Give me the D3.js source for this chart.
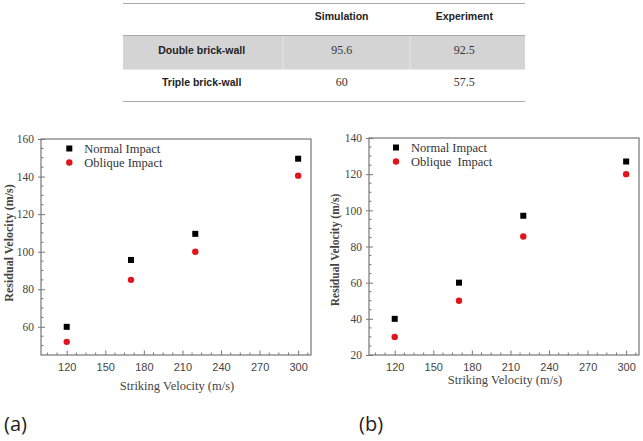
<!DOCTYPE html>
<html><head><meta charset="utf-8">
<script src="https://cdn.jsdelivr.net/npm/d3@7"></script>
<style>body{margin:0;background:#fff;}svg{display:block;}</style>
</head><body>
<svg id="chart" width="643" height="441"></svg>
<script>
// ---- data ----
const tableCols = ["Simulation", "Experiment"];
const tableRows = ["Double brick-wall", "Triple brick-wall"];
const simulation = ["95.6", "60"];
const experiment = ["92.5", "57.5"];

const velocities = [120, 170, 220, 300];
const normalA = [60, 95.6, 109.5, 149.5];
const obliqueA = [52, 85, 100, 140.5];
const normalB = [40, 60, 97, 127];
const obliqueB = [30, 50, 85.5, 120];

const xTicks = [120, 150, 180, 210, 240, 270, 300];
const yTicksA = [60, 80, 100, 120, 140, 160];
const yTicksB = [20, 40, 60, 80, 100, 120, 140];
const seriesNames = ["Normal Impact", "Oblique Impact"];
const seriesNamesB = ["Normal Impact", "Oblique  Impact"];
const panelLabels = ["(a)", "(b)"];

const svg = d3.select("#chart");

// ---- table ----
const tbl = svg.append("g");
const tx0 = 123, tx1 = 525;
const colX = [201.7, 341.7, 464.3];
tbl.append("rect").attr("x", tx0).attr("y", 36).attr("width", tx1 - tx0).attr("height", 33).attr("fill", "#d4d4d4");
[283, 410].forEach(x => tbl.append("line").attr("x1", x).attr("x2", x).attr("y1", 36).attr("y2", 69).attr("stroke", "#e6e6e6").attr("stroke-width", 1));
[3.5, 35.5, 101.5].forEach(y => tbl.append("line").attr("x1", tx0).attr("x2", tx1).attr("y1", y).attr("y2", y).attr("stroke", "#a8a8a8").attr("stroke-width", 1));
tbl.append("line").attr("x1", tx0).attr("x2", tx1).attr("y1", 69.5).attr("y2", 69.5).attr("stroke", "#e8e8e8");
tableCols.forEach((c, i) => tbl.append("text").attr("x", colX[i + 1]).attr("y", 20)
  .attr("text-anchor", "middle").attr("font-family", "Liberation Sans, Arial, sans-serif")
  .attr("font-weight", "bold").attr("font-size", 10.5).attr("fill", "#222").text(c));
const rowY = [54, 85.5];
tableRows.forEach((r, i) => {
  tbl.append("text").attr("x", colX[0]).attr("y", rowY[i]).attr("text-anchor", "middle")
    .attr("font-family", "Liberation Sans, Arial, sans-serif").attr("font-weight", "bold")
    .attr("font-size", 10.5).attr("fill", "#222").text(r);
  [simulation[i], experiment[i]].forEach((v, j) => tbl.append("text").attr("x", colX[j + 1]).attr("y", rowY[i])
    .attr("text-anchor", "middle").attr("font-family", "Liberation Serif, Times New Roman, serif")
    .attr("font-size", 12).attr("fill", "#333").text(v));
});

// ---- panels ----
function panel(opt) {
  const g = svg.append("g");
  const x = d3.scaleLinear().domain([100, 310]).range([opt.left, opt.right]);
  const y = d3.scaleLinear().domain(opt.yDomain).range([opt.bottom, opt.top]);
  const axisCol = "#777";
  g.append("rect").attr("x", opt.left).attr("y", opt.top).attr("width", opt.right - opt.left)
    .attr("height", opt.bottom - opt.top).attr("fill", "none").attr("stroke", axisCol).attr("stroke-width", 1.2);
  const xMinor = d3.range(105, 310, 7.5).filter(v => !xTicks.includes(v));
  g.selectAll(".xm").data(xMinor).join("line").attr("x1", d => x(d)).attr("x2", d => x(d))
    .attr("y1", opt.bottom).attr("y2", opt.bottom - 2.5).attr("stroke", axisCol);
  const xa = g.append("g").attr("transform", `translate(0,${opt.bottom})`)
    .call(d3.axisBottom(x).tickValues(xTicks).tickSize(-4.5).tickPadding(8).tickFormat(d3.format("d")));
  xa.select(".domain").remove();
  xa.selectAll("line").attr("stroke", axisCol);
  xa.selectAll("text").attr("font-family", "Liberation Sans, Arial, sans-serif").attr("font-size", 11).attr("fill", "#444");
  const yMinor = d3.range(opt.yDomain[0], opt.yDomain[1], 5).filter(v => !opt.yTicks.includes(v) && v > opt.yDomain[0]);
  g.selectAll(".ym").data(yMinor).join("line").attr("x1", opt.left).attr("x2", opt.left + 2.5)
    .attr("y1", d => y(d)).attr("y2", d => y(d)).attr("stroke", axisCol);
  const ya = g.append("g").attr("transform", `translate(${opt.left},0)`)
    .call(d3.axisLeft(y).tickValues(opt.yTicks).tickSize(4).tickPadding(3).tickFormat(d3.format("d")));
  ya.select(".domain").remove();
  ya.selectAll("line").attr("stroke", axisCol).attr("x2", -3).attr("x1", 4);
  ya.selectAll("text").attr("font-family", "Liberation Serif, Times New Roman, serif").attr("font-size", 11.5).attr("fill", "#444");
  g.append("text").attr("transform", `translate(${opt.yTitleX},${opt.yTitleY}) rotate(-90)`)
    .attr("text-anchor", "middle").attr("font-family", "Liberation Serif, Times New Roman, serif")
    .attr("font-weight", "bold").attr("font-size", opt.yTitleSize).attr("fill", "#444").text("Residual Velocity (m/s)");
  g.append("text").attr("x", opt.xTitleX).attr("y", opt.xTitleY).attr("text-anchor", "middle")
    .attr("font-family", "Liberation Serif, Times New Roman, serif").attr("font-size", 12.5).attr("fill", "#444")
    .text("Striking Velocity (m/s)");
  const s = 6;
  g.selectAll(".n").data(velocities).join("rect").attr("x", (d) => x(d) - s / 2)
    .attr("y", (d, i) => y(opt.normal[i]) - s / 2).attr("width", s).attr("height", s).attr("fill", "#000");
  g.selectAll(".o").data(velocities).join("circle").attr("cx", d => x(d))
    .attr("cy", (d, i) => y(opt.oblique[i])).attr("r", 3.2).attr("fill", "#e0141b");
  g.append("rect").attr("x", opt.legX - s / 2).attr("y", opt.legY - s / 2).attr("width", s).attr("height", s).attr("fill", "#000");
  g.append("circle").attr("cx", opt.legX).attr("cy", opt.legY + 14).attr("r", 3.2).attr("fill", "#e0141b");
  opt.names.forEach((n, i) => g.append("text").attr("x", opt.legX + 15).attr("y", opt.legY + 4 + i * 14)
    .attr("font-family", "Liberation Serif, Times New Roman, serif").attr("font-size", 12.5).attr("fill", "#333")
    .attr("xml:space", "preserve").style("white-space", "pre").text(n));
  g.append("text").attr("x", opt.labX).attr("y", 431).attr("font-family", "Open Sans, DejaVu Sans, sans-serif")
    .attr("font-size", 20).attr("fill", "#222").text(opt.label);
}

panel({left: 41, right: 311, top: 139, bottom: 355, yDomain: [45, 160], yTicks: yTicksA,
  normal: normalA, oblique: obliqueA, yTitleX: 13, yTitleY: 243, yTitleSize: 12,
  xTitleX: 177, xTitleY: 390, legX: 69.3, legY: 148.5, names: seriesNames, labX: 4, label: panelLabels[0]});
panel({left: 369, right: 639, top: 138, bottom: 355, yDomain: [20, 140], yTicks: yTicksB,
  normal: normalB, oblique: obliqueB, yTitleX: 339, yTitleY: 250, yTitleSize: 11.5,
  xTitleX: 505, xTitleY: 384, legX: 396, legY: 147.5, names: seriesNamesB, labX: 359, label: panelLabels[1]});
</script>
</body></html>
